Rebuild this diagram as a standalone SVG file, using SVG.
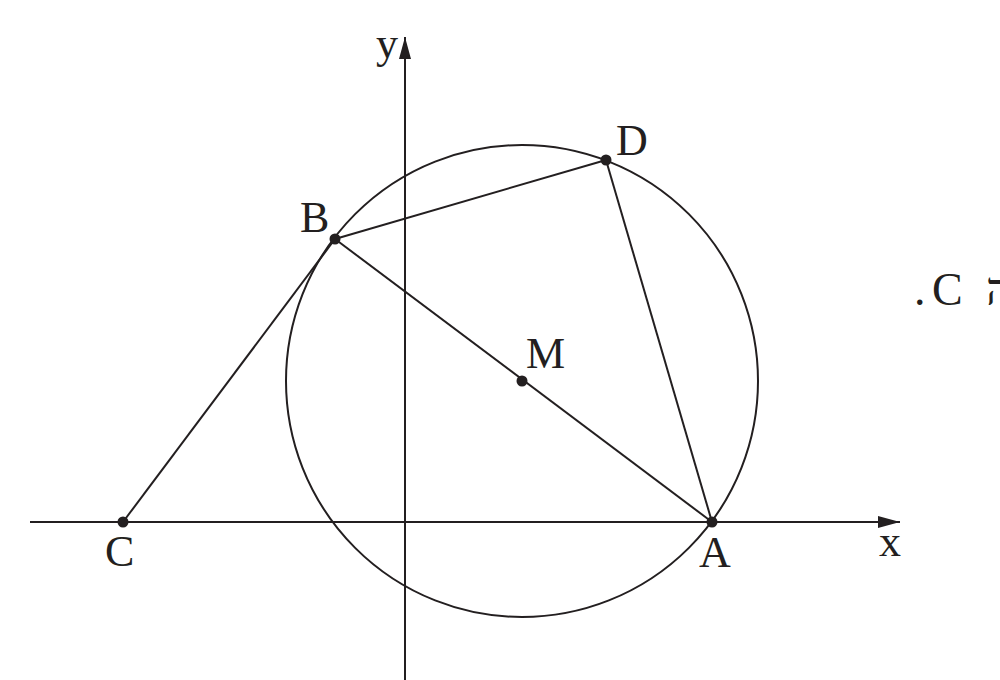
<svg xmlns="http://www.w3.org/2000/svg" width="1000" height="680" viewBox="0 0 1000 680">
<style>
.ln{stroke:#231f20;stroke-width:2;fill:none}
.pt{fill:#231f20}
.lb{font-family:"Liberation Serif","DejaVu Serif",serif;font-size:44px;fill:#231f20}
.cap{font-size:46px}
</style>
<defs>
<marker id="ar" viewBox="0 0 22 12" refX="22" refY="6" markerWidth="22" markerHeight="12" markerUnits="userSpaceOnUse" orient="auto">
<path d="M0,0 L22,6 L0,12 Z" fill="#231f20"/>
</marker>
</defs>
<rect width="1000" height="680" fill="#fff"/>
<g id="axes">
<line class="ln" x1="30" y1="522" x2="900" y2="522" marker-end="url(#ar)"/>
<line class="ln" x1="405" y1="680" x2="405" y2="37" marker-end="url(#ar)"/>
<text class="lb" x="879" y="556">x</text>
<text class="lb" x="376" y="58">y</text>
</g>
<g id="circle">
<circle class="ln" cx="522" cy="381" r="236"/>
</g>
<g id="connectors">
<line class="ln" x1="123" y1="522" x2="335" y2="239"/>
<line class="ln" x1="335" y1="239" x2="606" y2="160"/>
<line class="ln" x1="606" y1="160" x2="712" y2="522"/>
<line class="ln" x1="335" y1="239" x2="712" y2="522"/>
</g>
<g id="A"><circle class="pt" cx="712" cy="522" r="5.5"/><text class="lb" x="699" y="567">A</text></g>
<g id="B"><circle class="pt" cx="335" cy="239" r="5.5"/><text class="lb" x="300" y="232">B</text></g>
<g id="C"><circle class="pt" cx="123" cy="522" r="5.5"/><text class="lb" x="105" y="566">C</text></g>
<g id="D"><circle class="pt" cx="606" cy="160" r="5.5"/><text class="lb" x="616" y="155">D</text></g>
<g id="M"><circle class="pt" cx="522" cy="381" r="5.5"/><text class="lb" x="526" y="368">M</text></g>
<g id="caption">
<text class="lb cap" x="914" y="305">.</text>
<text class="lb cap" x="932" y="305">C</text>
<text class="lb cap" x="986" y="305">ה</text>
</g>
</svg>
